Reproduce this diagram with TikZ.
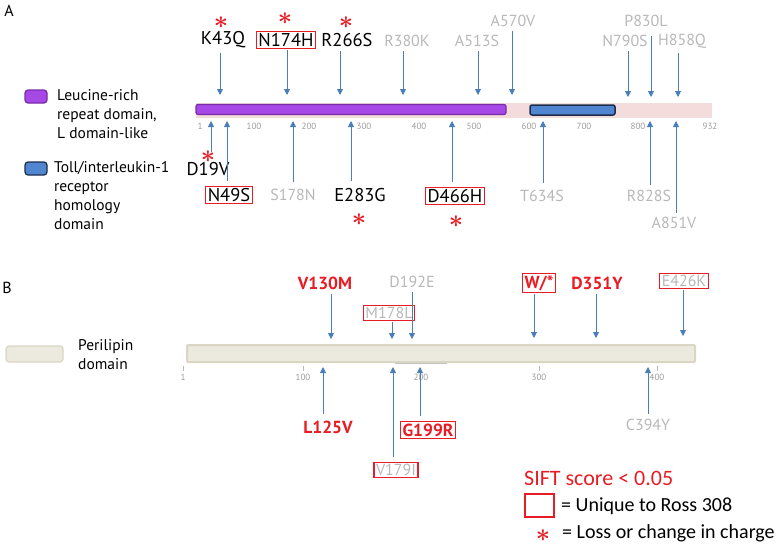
\documentclass[tikz,border=0pt]{standalone}
\usepackage{fontspec}
\setmainfont{PT Sans}
\newfontfamily\legfont{Carlito}
\usetikzlibrary{arrows.meta}

\definecolor{arrblue}{HTML}{4A7EBB}
\definecolor{lgray}{HTML}{B8B8B8}
\definecolor{tickgray}{HTML}{9A9A9A}
\definecolor{sred}{HTML}{E81C24}
\definecolor{lrrfill}{HTML}{A648E6}
\definecolor{lrrline}{HTML}{7A2CA8}
\definecolor{tirfill}{HTML}{4F86CF}
\definecolor{tirline}{HTML}{1C2D4C}
\definecolor{pinkbg}{HTML}{F3DCDB}
\definecolor{perifill}{HTML}{ECEADF}
\definecolor{periline}{HTML}{DAD6C3}

\begin{document}
\begin{tikzpicture}[
    x=1pt, y=-1pt,
    >={Triangle[width=6pt,length=6pt]},
    lbl/.style={font=\fontsize{18.5}{22}\selectfont, inner sep=1.5pt},
    gry/.style={lbl, text=lgray, font=\fontsize{16}{19}\selectfont},
    sift/.style={lbl, text=sred, font=\fontsize{17.5}{20}\selectfont\bfseries},
    uniq/.style={draw=sred, line width=1.4pt, inner sep=2pt},
    ast/.style={text=sred, font=\fontsize{24}{24}\selectfont\boldmath, inner sep=0pt},
    mut/.style={->, draw=arrblue, line width=0.9pt, shorten <=3pt},
    tck/.style={text=tickgray, font=\fontsize{9}{10}\selectfont, inner sep=0pt},
    swatch/.style={rounded corners=3pt, line width=1.2pt},
    leg/.style={font=\fontsize{15.5}{19}\selectfont, align=left, anchor=north west, inner sep=0pt}
]
\useasboundingbox (0,0) rectangle (778,543);

% ---------- panel A ----------
\node[font=\fontsize{16}{18}\selectfont] (pA) at (9,11) {A};

\draw[swatch, draw=lrrline, fill=lrrfill] (25,90) rectangle (47,103);
\node[leg] (legLRR) at (57,89) {Leucine-rich\\repeat domain,\\L domain-like};
\draw[swatch, draw=tirline, fill=tirfill] (25,162) rectangle (47,175);
\node[leg] (legTIR) at (54,161) {Toll/interleukin-1\\receptor\\homology\\domain};

% protein bar
\fill[pinkbg] (196,103) rectangle (712,118);
\draw[lrrline, fill=lrrfill, line width=1.2pt, rounded corners=2pt] (196,104.5) rectangle (506,114.5);
\draw[tirline, fill=tirfill, line width=1.5pt, rounded corners=2pt] (530,105) rectangle (615,115);

\node[tck] (a1)   at (200,126) {1};
\node[tck] (a100) at (254,126) {100};
\node[tck] (a200) at (309,126) {200};
\node[tck] (a300) at (364,126) {300};
\node[tck] (a400) at (419,126) {400};
\node[tck] (a500) at (474,126) {500};
\node[tck] (a600) at (529,126) {600};
\node[tck] (a700) at (584,126) {700};
\node[tck] (a800) at (638,126) {800};
\node[tck] (a932) at (710,126) {932};

% above the bar
\node[lbl] (K43Q) at (223,40) {K43Q};
\node[lbl, uniq] (N174H) at (286,40) {N174H};
\node[lbl] (R266S) at (347,40) {R266S};
\node[gry] (R380K) at (407,41) {R380K};
\node[gry] (A513S) at (477,41) {A513S};
\node[gry] (A570V) at (513,21) {A570V};
\node[gry] (N790S) at (625,41) {N790S};
\node[gry] (P830L) at (646,21) {P830L};
\node[gry] (H858Q) at (682,41) {H858Q};

\node[ast] (sK43Q) at (221,22.5) {$\ast$};
\node[ast] (sN174H) at (285,18.5) {$\ast$};
\node[ast] (sR266S) at (346,23) {$\ast$};

\coordinate (tK43Q) at (220,95);
\coordinate (tN174H) at (287,95);
\coordinate (tR266S) at (340,95);
\coordinate (tR380K) at (403,95);
\coordinate (tA513S) at (478,95);
\coordinate (tA570V) at (512,95);
\coordinate (tN790S) at (628,97);
\coordinate (tP830L) at (651,97);
\coordinate (tH858Q) at (678,97);

\draw[mut] (K43Q.south -| tK43Q) -- (tK43Q);
\draw[mut, shorten <=1pt] (N174H.south -| tN174H) -- (tN174H);
\draw[mut] (R266S.south -| tR266S) -- (tR266S);
\draw[mut] (R380K.south -| tR380K) -- (tR380K);
\draw[mut] (A513S.south -| tA513S) -- (tA513S);
\draw[mut] (A570V.south -| tA570V) -- (tA570V);
\draw[mut] (N790S.south -| tN790S) -- (tN790S);
\draw[mut, shorten <=8pt] (P830L.south -| tP830L) -- (tP830L);
\draw[mut] (H858Q.south -| tH858Q) -- (tH858Q);

% below the bar
\node[lbl] (D19V) at (208,169) {D19V};
\node[lbl, uniq] (N49S) at (229,195) {N49S};
\node[gry] (S178N) at (293,195) {S178N};
\node[lbl] (E283G) at (360,195) {E283G};
\node[lbl, uniq] (D466H) at (455,196) {D466H};
\node[gry] (T634S) at (542,196) {T634S};
\node[gry] (R828S) at (649,196) {R828S};
\node[gry] (A851V) at (674,223) {A851V};

\node[ast] (sD19V) at (208,157) {$\ast$};
\node[ast] (sE283G) at (359,220) {$\ast$};
\node[ast] (sD466H) at (456,222) {$\ast$};

\coordinate (tD19V) at (211,121);
\coordinate (tN49S) at (227,121);
\coordinate (tS178N) at (293,121);
\coordinate (tE283G) at (351,121);
\coordinate (tD466H) at (452,121);
\coordinate (tT634S) at (543,121);
\coordinate (tR828S) at (650,121);
\coordinate (tA851V) at (676,121);

\draw[mut, shorten <=9pt] (D19V.north -| tD19V) -- (tD19V);
\draw[mut, shorten <=5pt] (N49S.north -| tN49S) -- (tN49S);
\draw[mut, shorten <=6pt] (S178N.north -| tS178N) -- (tS178N);
\draw[mut, shorten <=6pt] (E283G.north -| tE283G) -- (tE283G);
\draw[mut, shorten <=5pt] (D466H.north -| tD466H) -- (tD466H);
\draw[mut, shorten <=6pt] (T634S.north -| tT634S) -- (tT634S);
\draw[mut, shorten <=4pt] (R828S.north -| tR828S) -- (tR828S);
\draw[mut] (A851V.north -| tA851V) -- (tA851V);

% ---------- panel B ----------
\node[font=\fontsize{16}{18}\selectfont] (pB) at (7,288) {B};

\draw[swatch, draw=periline, fill=perifill] (6,346) rectangle (63,362);
\node[leg] (legPer) at (78,339) {Perilipin\\domain};

\draw[periline, fill=perifill, line width=2pt, rounded corners=1pt] (187,345) rectangle (695,362);
\draw[tickgray!60, line width=0.8pt] (395,363) -- (447,363);

\node[tck] (b1)   at (183,377) {1};
\node[tck] (b100) at (303,377) {100};
\node[tck] (b200) at (421,377) {200};
\node[tck] (b300) at (539,377) {300};
\node[tck] (b400) at (657,377) {400};
\draw[tickgray!70, line width=0.6pt] (b1.north) ++(0,-3) -- ++(0,-5);
\draw[tickgray!70, line width=0.6pt] (b100.north) ++(0,-3) -- ++(0,-5);
\draw[tickgray!70, line width=0.6pt] (b300.north) ++(0,-3) -- ++(0,-5);
\draw[tickgray!70, line width=0.6pt] (b400.north) ++(0,-3) -- ++(0,-5);

% above the bar
\node[sift] (V130M) at (325,283) {V130M};
\node[gry, uniq] (M178L) at (389,313) {M178L};
\node[gry] (D192E) at (412,282) {D192E};
\node[sift, uniq] (Wst) at (539,283) {W/*};
\node[sift] (D351Y) at (597,283) {D351Y};
\node[gry, uniq] (E426K) at (684,281) {E426K};

\coordinate (tV130M) at (331,339);
\coordinate (tM178L) at (392,339);
\coordinate (tD192E) at (412,339);
\coordinate (tWst) at (534,338);
\coordinate (tD351Y) at (596,338);
\coordinate (tE426K) at (683,336);

\draw[mut] (V130M.south -| tV130M) -- (tV130M);
\draw[mut, shorten <=1pt] (M178L.south -| tM178L) -- (tM178L);
\draw[mut] (D192E.south -| tD192E) -- (tD192E);
\draw[mut, shorten <=1pt] (Wst.south -| tWst) -- (tWst);
\draw[mut] (D351Y.south -| tD351Y) -- (tD351Y);
\draw[mut, shorten <=1pt] (E426K.south -| tE426K) -- (tE426K);

% below the bar
\node[sift] (L125V) at (328,427) {L125V};
\node[gry, uniq] (V179I) at (396,470) {V179I};
\node[sift, uniq] (G199R) at (428,430) {G199R};
\node[gry] (C394Y) at (648,425) {C394Y};

\coordinate (tL125V) at (323,367);
\coordinate (tV179I) at (393,367);
\coordinate (tG199R) at (420,367);
\coordinate (tC394Y) at (648,367);

\draw[mut, shorten <=5pt] (L125V.north -| tL125V) -- (tL125V);
\draw[mut, shorten <=5pt] (V179I.north -| tV179I) -- (tV179I);
\draw[mut, shorten <=5pt] (G199R.north -| tG199R) -- (tG199R);
\draw[mut, shorten <=4pt] (C394Y.north -| tC394Y) -- (tC394Y);

% key
\node[anchor=west, text=sred, inner sep=0pt, font=\legfont\fontsize{22}{26}\selectfont] (keyT) at (524,478) {SIFT score < 0.05};
\node[draw=sred, line width=1.4pt, minimum width=29pt, minimum height=23pt, inner sep=0pt] (keyBox) at (539.5,505.5) {};
\node[anchor=west, inner sep=0pt, font=\legfont\fontsize{20}{24}\selectfont] (keyU) at (561,506) {= Unique to Ross 308};
\node[ast] (keyAst) at (543,536) {$\ast$};
\node[anchor=west, inner sep=0pt, font=\legfont\fontsize{20}{24}\selectfont] (keyL) at (562,533) {= Loss or change in charge};
\end{tikzpicture}
\end{document}
